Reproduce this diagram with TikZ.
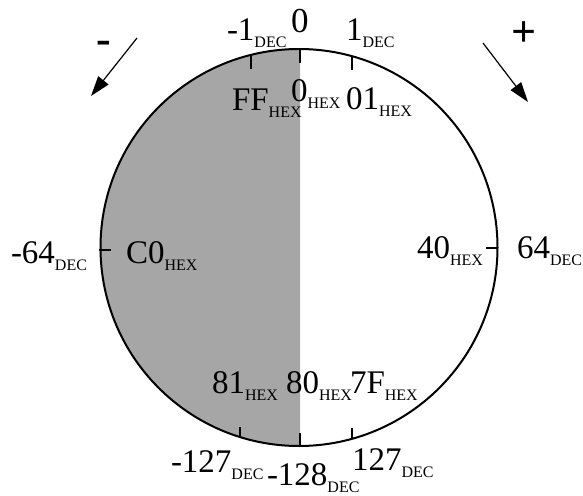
\documentclass[tikz,border=0pt]{standalone}
\usepackage{fontspec}
\setmainfont{Liberation Serif}
\usetikzlibrary{arrows.meta}
\definecolor{halfgray}{RGB}{166,166,166}
\newcommand\mainsz{\fontsize{33}{33}\selectfont}
\newcommand\subsz{\fontsize{16}{16}\selectfont}
\newcommand\lab[2]{{\mainsz #1}\raisebox{-7pt}{\subsz #2}}
\tikzset{
  lbl/.style={anchor=base west, inner sep=0pt, outer sep=0pt},
  tick/.style={line width=2pt},
  rim/.style={line width=2pt},
  dirarrow/.style={line width=1.2pt, -{Triangle[length=20pt,width=13pt]}},
  signlbl/.style={anchor=base, inner sep=0pt, font=\fontsize{44}{44}\selectfont\bfseries}
}
\begin{document}
\begin{tikzpicture}[x=1pt,y=-1pt]
\useasboundingbox (0,0) rectangle (583,495);
\coordinate (c) at (299,247.5);
% shaded half
\begin{scope}
  \clip (0,0) rectangle (300,495);
  \fill[halfgray] (c) circle[radius=198.5pt];
\end{scope}
\draw[rim] (c) circle[radius=198.5pt];
% ticks
\draw[tick] (300,49) -- (300,63);
\draw[tick] (251,55) -- (251,69);
\draw[tick] (352,56) -- (352,70);
\draw[tick] (240,427) -- (240,437);
\draw[tick] (300,433) -- (300,446);
\draw[tick] (352,428) -- (352,439);
\draw[tick] (99,250) -- (111,250);
\draw[tick] (486,248) -- (497,248);
% top labels
\node[lbl, font=\fontsize{35}{35}\selectfont] (nz) at (291,33) {0};
\node[lbl] (nm1) at (227,41) {\lab{-1}{DEC}};
\node[lbl] (np1) at (346,41) {\lab{1}{DEC}};
\node[lbl] (nFF) at (232,110) {\lab{FF}{HEX}};
\node[lbl] (nzh) at (291,101) {\lab{0}{HEX}};
\node[lbl] (n01) at (346,109) {\lab{01}{HEX}};
% bottom labels
\node[lbl] (n81) at (212,393) {\lab{81}{HEX}};
\node[lbl] (n80) at (286,393) {\lab{80}{HEX}};
\node[lbl] (n7F) at (350,393) {\lab{7F}{HEX}};
\node[lbl] (nm127) at (171,472) {\lab{-127}{DEC}};
\node[lbl] (nm128) at (267,485) {\lab{-128}{DEC}};
\node[lbl] (n127) at (352,470) {\lab{127}{DEC}};
% side labels
\node[lbl] (nm64) at (11,263) {\lab{-64}{DEC}};
\node[lbl] (nC0) at (126,263) {\lab{C0}{HEX}};
\node[lbl] (n40) at (417,258) {\lab{40}{HEX}};
\node[lbl] (n64) at (517,258) {\lab{64}{DEC}};
% direction arrows
\coordinate (la) at (137,38);
\coordinate (lb) at (91,96);
\coordinate (ra) at (483,43);
\coordinate (rb) at (528,102);
\draw[dirarrow] (la) -- (lb);
\draw[dirarrow] (ra) -- (rb);
\node[signlbl] (minus) at (104,53) {-};
\node[signlbl] (plus) at (524,46) {+};
\end{tikzpicture}
\end{document}
